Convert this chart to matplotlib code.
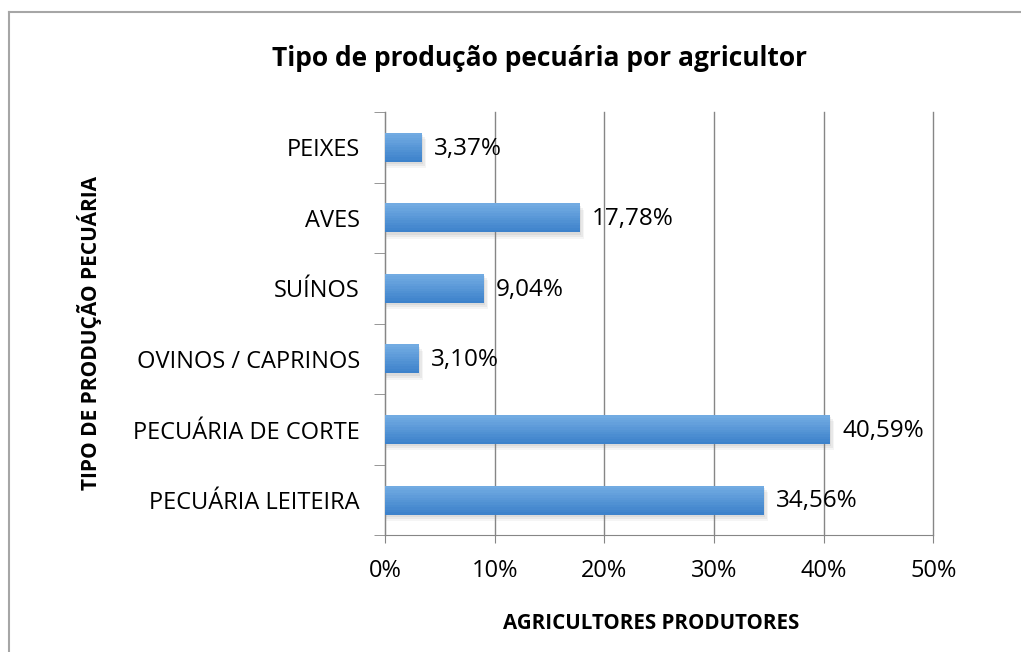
import matplotlib.pyplot as plt
from matplotlib.colors import to_rgb
from matplotlib.lines import Line2D
from matplotlib.ticker import FixedLocator

categories = ["PECUÁRIA LEITEIRA", "PECUÁRIA DE CORTE", "OVINOS / CAPRINOS",
              "SUÍNOS", "AVES", "PEIXES"]
values = [34.56, 40.59, 3.10, 9.04, 17.78, 3.37]
value_labels = ["34,56%", "40,59%", "3,10%", "9,04%", "17,78%", "3,37%"]
xticks = [0, 10, 20, 30, 40, 50]
xtick_labels = ["0%", "10%", "20%", "30%", "40%", "50%"]

plt.rcParams["font.family"] = ["Open Sans", "DejaVu Sans"]

fig = plt.figure(figsize=(10.21, 6.52), dpi=100)
ax = fig.add_axes([0.377, 0.179, 0.537, 0.649])

# outer chart frame (only top and left edges visible)
fig.add_artist(Line2D([0.0088, 0.0088], [0, 1 - 12 / 652], transform=fig.transFigure,
                      color="#a6a6a6", lw=1.5))
fig.add_artist(Line2D([0.0088, 1], [1 - 12 / 652, 1 - 12 / 652], transform=fig.transFigure,
                      color="#a6a6a6", lw=1.5))

y = list(range(len(categories)))
bar_h = 0.41

# soft shadow under the bars
for k, a in enumerate([0.12, 0.10, 0.07]):
    off = 0.015 * (k + 1)
    ax.barh([v - off * 2 for v in y], [v + 0.12 * (k + 1) for v in values],
            height=bar_h, color="#7f7f7f", alpha=a, zorder=2, lw=0)

# vertical gradient: light at the top, darker at the bottom
top_c, bot_c = to_rgb("#72abe2"), to_rgb("#3d82cb")
n = 12
strip = bar_h / n
for i in range(n):
    t = i / (n - 1)
    c = tuple(bc + (tc - bc) * t for tc, bc in zip(top_c, bot_c))
    ax.barh([v - bar_h / 2 + strip * (i + 0.5) for v in y], values, height=strip * 1.05,
            color=c, zorder=3, lw=0)

for yi, v, lab in zip(y, values, value_labels):
    ax.text(v + 1.1, yi - 0.02, lab, va="center", ha="left", fontsize=17.5, color="black",
            zorder=4)

ax.set_xlim(0, 50)
ax.set_ylim(-0.5, len(categories) - 0.5)
ax.set_xticks(xticks)
ax.set_xticklabels(xtick_labels, fontsize=17)
ax.set_yticks(y)
ax.set_yticklabels(categories, fontsize=17)
ax.tick_params(axis="y", length=0, pad=18)
ax.tick_params(axis="x", length=6, color="#868686", pad=11)
ax.yaxis.set_minor_locator(FixedLocator([i - 0.5 for i in range(len(categories) + 1)]))
ax.tick_params(axis="y", which="minor", length=8, color="#868686")

ax.grid(axis="x", color="#868686", lw=1)
for gl in ax.xaxis.get_gridlines():
    gl.set_clip_on(False)
ax.set_axisbelow(True)
for side in ["top", "right"]:
    ax.spines[side].set_visible(False)
for side in ["left", "bottom"]:
    ax.spines[side].set_color("#868686")

fig.text(0.528, 0.91, "Tipo de produção pecuária por agricultor", ha="center", va="center",
         fontsize=19, fontweight="bold")
fig.text(0.638, 0.044, "AGRICULTORES PRODUTORES", ha="center", va="center",
         fontsize=14.8, fontweight="bold")
fig.text(0.088, 0.489, "TIPO DE PRODUÇÃO PECUÁRIA", ha="center", va="center",
         rotation=90, fontsize=15, fontweight="bold")

fig.savefig("out.png", dpi=100)
